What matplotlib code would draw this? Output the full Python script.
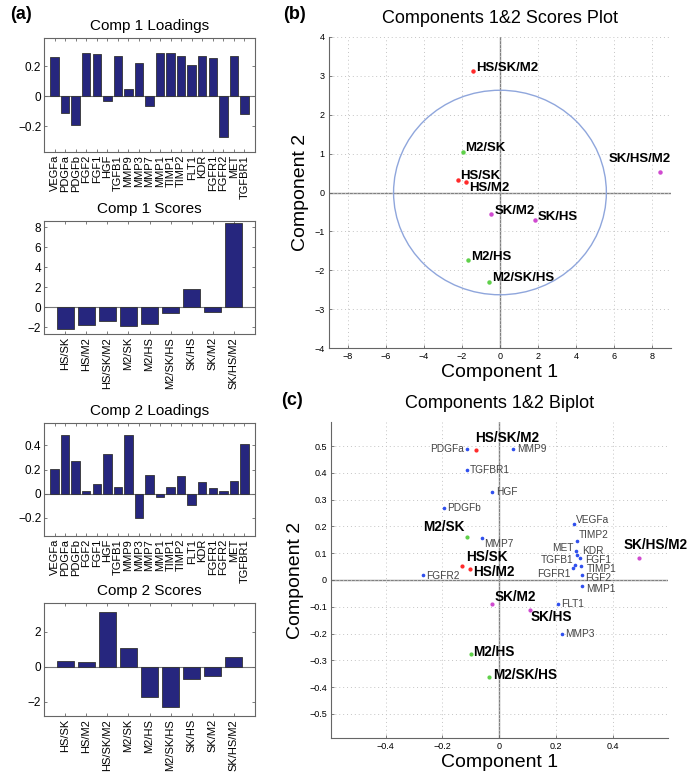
import matplotlib
matplotlib.use("Agg")
import matplotlib.pyplot as plt
from matplotlib.patches import Ellipse
import numpy as np

plt.rcParams["font.family"] = ["Liberation Sans", "DejaVu Sans"]

genes = ["VEGFa", "PDGFa", "PDGFb", "FGF2", "FGF1", "HGF", "TGFB1", "MMP9",
         "MMP3", "MMP7", "MMP1", "TIMP1", "TIMP2", "FLT1", "KDR", "FGFR1",
         "FGFR2", "MET", "TGFBR1"]
load1 = [0.262, -0.113, -0.193, 0.291, 0.284, -0.027, 0.267, 0.049, 0.222,
         -0.062, 0.291, 0.289, 0.273, 0.207, 0.273, 0.258, -0.267, 0.269, -0.114]
load2 = [0.208, 0.489, 0.268, 0.019, 0.083, 0.33, 0.055, 0.488, -0.20,
         0.158, -0.024, 0.053, 0.146, -0.091, 0.094, 0.044, 0.019, 0.108, 0.409]

conditions = ["HS/SK", "HS/M2", "HS/SK/M2", "M2/SK", "M2/HS", "M2/SK/HS",
              "SK/HS", "SK/M2", "SK/HS/M2"]
groups = ["HS", "HS", "HS", "M2", "M2", "M2", "SK", "SK", "SK"]
score1 = [-2.21, -1.77, -1.42, -1.93, -1.69, -0.56, 1.85, -0.45, 8.41]
score2 = [0.33, 0.27, 3.12, 1.04, -1.74, -2.30, -0.70, -0.56, 0.53]

# scores as drawn (rescaled) in the biplot
bip_x = [-0.131, -0.103, -0.083, -0.114, -0.101, -0.035, 0.108, -0.026, 0.492]
bip_y = [0.052, 0.041, 0.487, 0.162, -0.275, -0.361, -0.112, -0.090, 0.081]

# confidence ellipse of the scores plot (semi-axes)
ell_rx, ell_ry = 5.6, 2.63

group_colors = {"HS": "#ff2a2a", "M2": "#5fd04a", "SK": "#d04ad0"}
bar_color = "#26267e"
frame_color = "#666666"
PX = 0.72  # pixel -> points at dpi 100

# label offsets in pixels (dx, dy, ha)
score_offs_b = {
    "HS/SK": (2, 4, "left"), "HS/M2": (3, -6, "left"), "HS/SK/M2": (3, 3, "left"),
    "M2/SK": (2, 4, "left"), "M2/HS": (3, 3, "left"), "M2/SK/HS": (3, 4, "left"),
    "SK/HS": (3, 3, "left"), "SK/M2": (3, 3, "left"), "SK/HS/M2": (11, 13, "right"),
}
score_offs_c = {
    "HS/SK": (4, 9, "left"), "HS/M2": (3, -3, "left"), "HS/SK/M2": (0, 12, "left"),
    "M2/SK": (-2, 10, "right"), "M2/HS": (3, 2, "left"), "M2/SK/HS": (4, 2, "left"),
    "SK/HS": (1, -7, "left"), "SK/M2": (3, 7, "left"), "SK/HS/M2": (-15, 13, "left"),
}
gene_offs = {
    "VEGFa": (2, 4, "left"), "PDGFa": (-3, 0, "right"), "PDGFb": (3, 0, "left"),
    "FGF2": (3, -3, "left"), "FGF1": (5, -2, "left"), "HGF": (5, 0, "left"),
    "TGFB1": (-2, 5, "right"), "MMP9": (4, 0, "left"), "MMP3": (3, 0, "left"),
    "MMP7": (3, -6, "left"), "MMP1": (4, -3, "left"), "TIMP1": (5, -3, "left"),
    "TIMP2": (2, 6, "left"), "FLT1": (3, 0, "left"), "KDR": (5, 4, "left"),
    "FGFR1": (-2, -6, "right"), "FGFR2": (3, -1, "left"), "MET": (-2, 3, "right"),
    "TGFBR1": (3, 0, "left"),
}

fig = plt.figure(figsize=(6.92, 7.77), dpi=100, facecolor="white")


def bar_panel(rect, labels, values, title, ylim, yticks, yticklabels):
    ax = fig.add_axes(rect)
    x = np.arange(len(labels))
    ax.bar(x, values, width=0.8, color=bar_color, edgecolor="#333333",
           linewidth=0.6, zorder=2)
    ax.axhline(0, color="#777777", linewidth=0.8, zorder=1)
    ax.set_xlim(-1, len(labels))
    ax.set_ylim(*ylim)
    ax.set_xticks(x)
    ax.set_xticklabels(labels, rotation=90, fontsize=8)
    ax.set_yticks(yticks)
    ax.set_yticklabels(yticklabels, fontsize=8.5)
    ax.tick_params(direction="in", length=2.5, width=0.6, color=frame_color,
                   top=True, right=True, pad=2)
    for s in ax.spines.values():
        s.set_color(frame_color)
        s.set_linewidth(0.8)
    ax.set_title(title, fontsize=11, pad=6)
    return ax


bar_panel([0.0636, 0.8044, 0.3049, 0.1467], genes, load1, "Comp 1 Loadings",
          (-0.37, 0.39), [-0.2, 0, 0.2], ["\u22120.2", "0", "0.2"])
bar_panel([0.0636, 0.5701, 0.3049, 0.1454], conditions, score1, "Comp 1 Scores",
          (-2.7, 8.6), [-2, 0, 2, 4, 6, 8], ["\u22122", "0", "2", "4", "6", "8"])
bar_panel([0.0636, 0.3102, 0.3049, 0.1454], genes, load2, "Comp 2 Loadings",
          (-0.35, 0.585), [-0.2, 0, 0.2, 0.4], ["\u22120.2", "0", "0.2", "0.4"])
bar_panel([0.0636, 0.0785, 0.3049, 0.1454], conditions, score2, "Comp 2 Scores",
          (-2.82, 3.64), [-2, 0, 2], ["\u22122", "0", "2"])


def scatter_axes(rect, xlim, ylim, xticks, yticks, title, xfmt, yfmt):
    ax = fig.add_axes(rect)
    ax.set_xlim(*xlim)
    ax.set_ylim(*ylim)
    ax.set_xticks(xticks)
    ax.set_yticks(yticks)
    ax.set_xticklabels([xfmt(v) for v in xticks])
    ax.set_yticklabels([yfmt(v) for v in yticks])
    ax.grid(True, linestyle=(0, (1, 3)), color="#c4c4c4", linewidth=0.7, zorder=0)
    ax.axhline(0, color="#808080", linewidth=1.0, zorder=1)
    ax.axvline(0, color="#808080", linewidth=1.0, zorder=1)
    for s in ["top", "right"]:
        ax.spines[s].set_visible(False)
    for s in ["left", "bottom"]:
        ax.spines[s].set_color(frame_color)
        ax.spines[s].set_linewidth(0.8)
    ax.tick_params(direction="in", length=2.5, width=0.6, color=frame_color,
                   labelsize=6.5, pad=3)
    ax.set_title(title, fontsize=13, pad=10)
    ax.set_xlabel("Component 1", fontsize=14, labelpad=2)
    ax.set_ylabel("Component 2", fontsize=14, labelpad=4)
    return ax


def fmt_int(v):
    return "0" if v == 0 else f"{v:d}".replace("-", "\u2212")


def fmt_dec(v):
    return "0" if abs(v) < 1e-9 else f"{v:.1f}".replace("-", "\u2212")


# (b) scores plot
axb = scatter_axes([0.4754, 0.5521, 0.4942, 0.4003], (-9, 9), (-4, 4),
                   list(range(-8, 9, 2)), list(range(-4, 5)),
                   "Components 1&2 Scores Plot", fmt_int, fmt_int)
axb.add_patch(Ellipse((0, 0), 2 * ell_rx, 2 * ell_ry, fill=False,
                      edgecolor="#8fa6dc", linewidth=1.0, zorder=2))
for c, g, sx, sy in zip(conditions, groups, score1, score2):
    axb.plot(sx, sy, "o", color=group_colors[g], markersize=2.2, zorder=3)
    dx, dy, ha = score_offs_b[c]
    axb.annotate(c, (sx, sy), xytext=(dx * PX, dy * PX), textcoords="offset points",
                 ha=ha, va="center", fontsize=9.5, fontweight="bold", zorder=4)

# (c) biplot
ticks_c = [-0.4, -0.2, 0, 0.2, 0.4]
yticks_c = [round(v, 1) for v in np.arange(-0.5, 0.51, 0.1)]
axc = scatter_axes([0.4783, 0.0502, 0.4870, 0.4067], (-0.592, 0.594), (-0.59, 0.59),
                   ticks_c, yticks_c, "Components 1&2 Biplot", fmt_dec, fmt_dec)
for gname, lx, ly in zip(genes, load1, load2):
    axc.plot(lx, ly, "o", color="#3050ee", markersize=1.6, zorder=3)
    dx, dy, ha = gene_offs[gname]
    axc.annotate(gname, (lx, ly), xytext=(dx * PX, dy * PX), textcoords="offset points",
                 ha=ha, va="center", fontsize=7.3, color="#444444", zorder=4)
for c, g, sx, sy in zip(conditions, groups, bip_x, bip_y):
    axc.plot(sx, sy, "o", color=group_colors[g], markersize=2.0, zorder=3)
    dx, dy, ha = score_offs_c[c]
    axc.annotate(c, (sx, sy), xytext=(dx * PX, dy * PX), textcoords="offset points",
                 ha=ha, va="center", fontsize=9.8, fontweight="bold", zorder=4)

fig.text(0.014, 0.981, "(a)", fontsize=13, fontweight="bold", va="center")
fig.text(0.409, 0.981, "(b)", fontsize=13, fontweight="bold", va="center")
fig.text(0.406, 0.485, "(c)", fontsize=13, fontweight="bold", va="center")

fig.savefig("out.png", dpi=100, facecolor="white")
